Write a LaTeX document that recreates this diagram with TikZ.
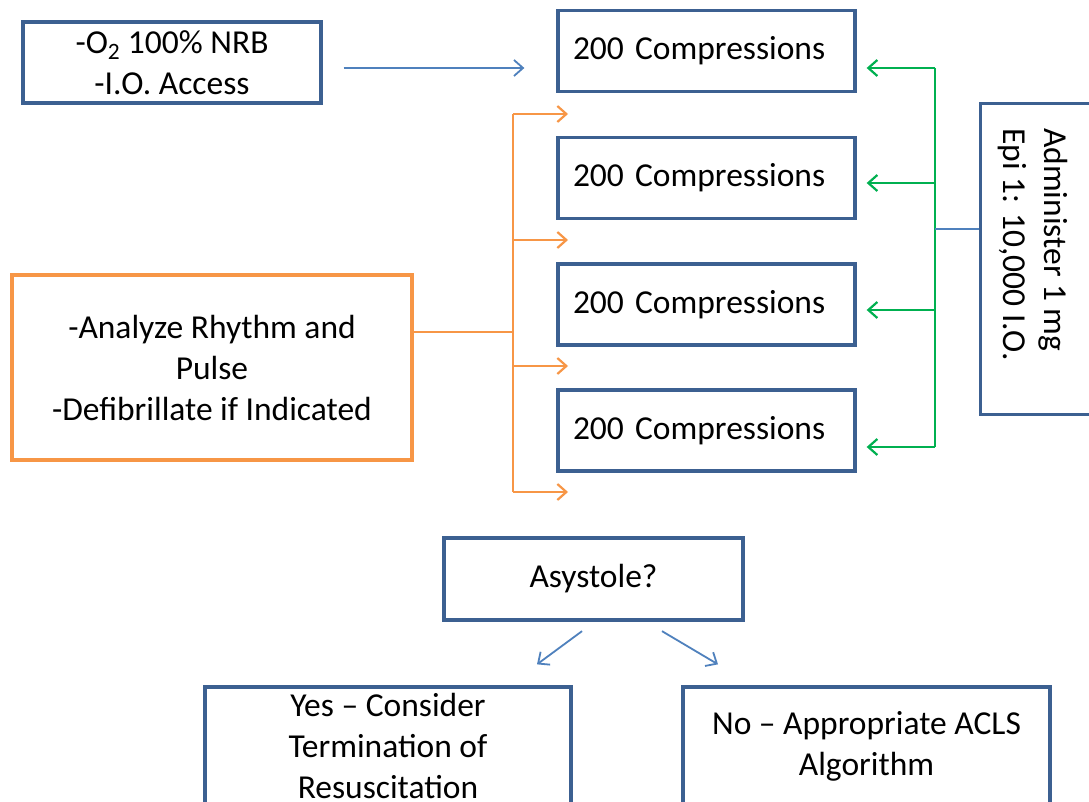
\documentclass[tikz,border=0pt]{standalone}
\usepackage{fontspec}
\setmainfont{Carlito}
\usetikzlibrary{arrows.meta,calc}
\definecolor{bbd}{HTML}{3C6091}
\definecolor{bln}{HTML}{4F81BD}
\definecolor{orn}{HTML}{F79646}
\definecolor{grn}{HTML}{00B050}
\begin{document}
\begin{tikzpicture}[x=1pt,y=-1pt,
  every node/.style={font=\fontsize{33.5}{41}\selectfont},
  box/.style={draw=bbd,line width=3.3pt,inner sep=0pt,align=center},
  cbox/.style={box,minimum height=81pt,text width=267pt,inner xsep=15pt,align=left},
  tip/.style={-{Straight Barb[length=9pt,width=16pt]}},
  barr/.style={tip,draw=bln,line width=1.8pt},
  bline/.style={draw=bln,line width=1.8pt},
  oline/.style={draw=orn,line width=2.2pt},
  oarr/.style={tip,draw=orn,line width=2.2pt},
  gline/.style={draw=grn,line width=2.2pt},
  garr/.style={tip,draw=grn,line width=2.2pt},
]
\clip (0,0) rectangle (1089,802);
\fill[white] (0,0) rectangle (1089,802);

% nodes
\node[box,minimum width=298pt,minimum height=81pt] (o2) at (172,62.5)
  {-O\textsubscript{2} 100\% NRB\\-I.O. Access};
\node[cbox] (c1) at (706.5,51) {200 Compressions};
\node[cbox] (c2) at (706.5,178) {200 Compressions};
\node[cbox] (c3) at (706.5,304.5) {200 Compressions};
\node[cbox] (c4) at (706.5,430.5) {200 Compressions};
\node[box,draw=orn,minimum width=400pt,minimum height=185pt] (an) at (212,367.5)
  {-Analyze Rhythm and\\Pulse\\-Defibrillate if Indicated};
\node[box,anchor=north west,minimum width=160pt,minimum height=311pt] (epi) at (979,102) {};
\node[rotate=-90,anchor=west,align=left,inner sep=0pt] (epit) at (1033,128)
  {Administer 1 mg\\Epi 1: 10,000 I.O.};
\node[box,minimum width=299pt,minimum height=82pt] (asys) at (593.5,579) {Asystole?};
\node[box,minimum width=366pt,minimum height=118pt] (yes) at (388,746)
  {Yes – Consider\\Termination of\\Resuscitation};
\node[box,minimum width=367pt,minimum height=118pt] (no) at (866.5,746)
  {No – Appropriate ACLS\\Algorithm};

% blue top arrow
\draw[barr,shorten <=21pt,shorten >=32pt] (o2.east |- 0,68) -- (c1.west |- 0,68);

% orange distribution
\coordinate (oj) at (513,332);
\coordinate (oa) at (568,114);
\coordinate (ob) at (568,240);
\coordinate (oc) at (568,366);
\coordinate (od) at (568,492);
\draw[oline] (an.east |- oj) -- (oj);
\draw[oline] (oj |- oa) -- (oj |- od);
\draw[oarr] (oj |- oa) -- (oa);
\draw[oarr] (oj |- ob) -- (ob);
\draw[oarr] (oj |- oc) -- (oc);
\draw[oarr] (oj |- od) -- (od);

% green distribution
\coordinate (gs) at (935,229);
\draw[gline] (gs |- 0,68) -- (gs |- 0,447);
\draw[garr,shorten >=10pt] (gs |- 0,68) -- (c1.east |- 0,68);
\draw[garr,shorten >=10pt] (gs |- 0,183) -- (c2.east |- 0,183);
\draw[garr,shorten >=10pt] (gs |- 0,310) -- (c3.east |- 0,310);
\draw[garr,shorten >=10pt] (gs |- 0,447) -- (c4.east |- 0,447);
\draw[bline] (epi.west |- gs) -- (gs);

% asystole arrows
\draw[barr] ($(asys.south)+(-11.5,9.5)$) -- ($(yes.north)+(149,-21)$);
\draw[barr] ($(asys.south)+(68.5,9.5)$) -- ($(no.north)+(-148.5,-21)$);
\end{tikzpicture}
\end{document}
